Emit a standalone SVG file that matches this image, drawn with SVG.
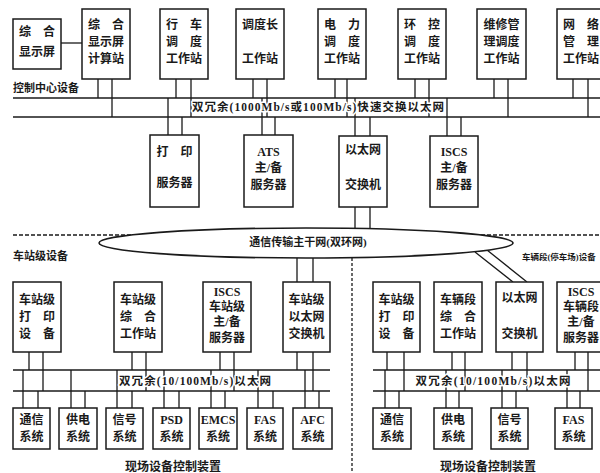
<svg xmlns="http://www.w3.org/2000/svg" width="600" height="473" viewBox="0 0 600 473">
<style>
.box{fill:#fff;stroke:#1a1a1a;stroke-width:1.5}
.ln{stroke:#1a1a1a;stroke-width:1.3;fill:none}
.t{font-family:"Liberation Serif","Noto Sans CJK SC",serif;font-size:12px;font-weight:bold;fill:#1a1a1a;text-anchor:middle}
.lab{font-family:"Liberation Serif","Noto Sans CJK SC",serif;font-size:11px;font-weight:bold;fill:#1a1a1a}
.bl{font-family:"Liberation Serif","Noto Sans CJK SC",serif;font-size:11.5px;font-weight:bold;fill:#1a1a1a;text-anchor:middle;paint-order:stroke;stroke:#fff;stroke-width:3px;stroke-linejoin:round}
</style>
<rect width="600" height="473" fill="#fff"/>
<g id="connectors" class="ln">
<!-- buses -->
<line x1="13" y1="98" x2="600" y2="98"/>
<line x1="13" y1="117" x2="600" y2="117"/>
<line x1="13" y1="370" x2="330" y2="370"/>
<line x1="13" y1="391" x2="330" y2="391"/>
<line x1="373" y1="370" x2="600" y2="370"/>
<line x1="373" y1="391" x2="600" y2="391"/>
<!-- dashed separators -->
<line x1="13" y1="235" x2="600" y2="235" stroke-dasharray="4 2"/>
<line x1="352" y1="258" x2="352" y2="473" stroke-dasharray="3 2"/>
<!-- display link -->
<line x1="61" y1="43" x2="82" y2="43"/>
<!-- top stations -->
<path d="M98 79V98M112 79V117M176 79V98M191 79V117M253 79V98M267 79V117M335 79V98M347 79V117M415 79V98M429 79V117M494 79V98M508 79V117M573 79V98M588 79V117"/>
<!-- servers -->
<path d="M168 98V135M182 117V135M262 98V135M275 117V135M355 98V136M370 117V136M447 98V136M461 117V136"/>
<!-- switch to ring -->
<path d="M355 207V229M370 207V229"/>
<path d="M297 258V282M313 258V282"/>
<path d="M475 252L513 282M487 250L527 282"/>
<!-- station devices -->
<path d="M29 352V370M43 352V391M132 352V370M146 352V391M220 352V370M234 352V391M297 352V370M313 352V391"/>
<!-- station subsystems -->
<path d="M23 370V408M38 391V408M71 370V408M85 391V408M117 370V408M132 391V408M164 370V408M179 391V408M211 370V408M225 391V408M258 370V408M273 391V408M305 370V408M319 391V408"/>
<!-- depot devices -->
<path d="M387 352V370M404 352V391M452 352V370M465 352V391M512 352V370M527 352V391M575 352V370M588 352V391"/>
<!-- depot subsystems -->
<path d="M385 370V408M399 391V408M446 370V408M459 391V408M502 370V408M516 391V408M567 370V408M580 391V408"/>
</g>

<g id="labels">
<text class="lab" x="13" y="92">控制中心设备</text>
<text class="lab" x="13" y="260">车站级设备</text>
<text class="lab" x="522" y="260" style="font-size:8.5px">车辆段(停车场)设备</text>
<text class="bl" x="318" y="111" textLength="252" lengthAdjust="spacing">双冗余(1000Mb/s或100Mb/s)快速交换以太网</text>
<text class="bl" x="195" y="385" textLength="152" lengthAdjust="spacing">双冗余(10/100Mb/s)以太网</text>
<text class="bl" x="493" y="385" textLength="155" lengthAdjust="spacing">双冗余(10/100Mb/s)以太网</text>
<text class="t" x="173" y="471">现场设备控制装置</text>
<text class="t" x="488" y="471">现场设备控制装置</text>
</g>

<g id="ring">
<ellipse cx="306" cy="243" rx="207" ry="15" fill="#fff" stroke="#1a1a1a" stroke-width="1.6"/>
<text class="lab" x="308" y="246" text-anchor="middle">通信传输主干网(双环网)</text>
</g>

<!-- control centre -->
<g id="n-display"><rect class="box" x="13" y="19" width="48" height="50"/><text class="t" x="37" y="36">综　合</text><text class="t" x="37" y="56">显示屏</text></g>
<g id="n-displaycalc"><rect class="box" x="82" y="9" width="48" height="70"/><text class="t" x="106" y="29">综　合</text><text class="t" x="106" y="46">显示屏</text><text class="t" x="106" y="63">计算站</text></g>
<g id="n-traffic"><rect class="box" x="160" y="9" width="48" height="70"/><text class="t" x="184" y="29">行　车</text><text class="t" x="184" y="46">调　度</text><text class="t" x="184" y="63">工作站</text></g>
<g id="n-chief"><rect class="box" x="236" y="9" width="48" height="70"/><text class="t" x="260" y="29">调度长</text><text class="t" x="260" y="63">工作站</text></g>
<g id="n-power"><rect class="box" x="318" y="9" width="48" height="70"/><text class="t" x="342" y="29">电　力</text><text class="t" x="342" y="46">调　度</text><text class="t" x="342" y="63">工作站</text></g>
<g id="n-env"><rect class="box" x="398" y="9" width="48" height="70"/><text class="t" x="422" y="29">环　控</text><text class="t" x="422" y="46">调　度</text><text class="t" x="422" y="63">工作站</text></g>
<g id="n-maint"><rect class="box" x="477" y="9" width="49" height="70"/><text class="t" x="501.5" y="29">维修管</text><text class="t" x="501.5" y="46">理调度</text><text class="t" x="501.5" y="63">工作站</text></g>
<g id="n-netmgmt"><rect class="box" x="557" y="9" width="48" height="70"/><text class="t" x="581" y="29">网　络</text><text class="t" x="581" y="46">管　理</text><text class="t" x="581" y="63">工作站</text></g>

<g id="n-printsrv"><rect class="box" x="150" y="135" width="49" height="72"/><text class="t" x="174.5" y="156">打　印</text><text class="t" x="174.5" y="187">服务器</text></g>
<g id="n-ats"><rect class="box" x="244" y="135" width="49" height="72"/><text class="t" x="268.5" y="156">ATS</text><text class="t" x="268.5" y="172">主/备</text><text class="t" x="268.5" y="189">服务器</text></g>
<g id="n-switch"><rect class="box" x="339" y="136" width="48" height="71"/><text class="t" x="363" y="154">以太网</text><text class="t" x="363" y="189">交换机</text></g>
<g id="n-iscs"><rect class="box" x="430" y="136" width="48" height="71"/><text class="t" x="454" y="156">ISCS</text><text class="t" x="454" y="172">主/备</text><text class="t" x="454" y="189">服务器</text></g>

<!-- station -->
<g id="n-st-print"><rect class="box" x="13" y="282" width="48" height="70"/><text class="t" x="37" y="304">车站级</text><text class="t" x="37" y="321">打　印</text><text class="t" x="37" y="338">设　备</text></g>
<g id="n-st-ws"><rect class="box" x="114" y="282" width="48" height="70"/><text class="t" x="138" y="304">车站级</text><text class="t" x="138" y="321">综　合</text><text class="t" x="138" y="338">工作站</text></g>
<g id="n-st-iscs"><rect class="box" x="203" y="282" width="48" height="70"/><text class="t" x="227" y="296">ISCS</text><text class="t" x="227" y="311">车站级</text><text class="t" x="227" y="326">主/备</text><text class="t" x="227" y="342">服务器</text></g>
<g id="n-st-switch"><rect class="box" x="283" y="282" width="47" height="70"/><text class="t" x="306.5" y="304">车站级</text><text class="t" x="306.5" y="321">以太网</text><text class="t" x="306.5" y="338">交换机</text></g>

<g id="n-st-comm"><rect class="box" x="13" y="408" width="37" height="41"/><text class="t" x="31.5" y="424">通信</text><text class="t" x="31.5" y="441">系统</text></g>
<g id="n-st-power"><rect class="box" x="59" y="408" width="38" height="41"/><text class="t" x="78" y="424">供电</text><text class="t" x="78" y="441">系统</text></g>
<g id="n-st-signal"><rect class="box" x="106" y="408" width="37" height="41"/><text class="t" x="124.5" y="424">信号</text><text class="t" x="124.5" y="441">系统</text></g>
<g id="n-st-psd"><rect class="box" x="153" y="408" width="37" height="41"/><text class="t" x="171.5" y="424">PSD</text><text class="t" x="171.5" y="441">系统</text></g>
<g id="n-st-emcs"><rect class="box" x="199" y="408" width="38" height="41"/><text class="t" x="218" y="424">EMCS</text><text class="t" x="218" y="441">系统</text></g>
<g id="n-st-fas"><rect class="box" x="247" y="408" width="36" height="41"/><text class="t" x="265" y="424">FAS</text><text class="t" x="265" y="441">系统</text></g>
<g id="n-st-afc"><rect class="box" x="293" y="408" width="39" height="41"/><text class="t" x="312.5" y="424">AFC</text><text class="t" x="312.5" y="441">系统</text></g>

<!-- depot -->
<g id="n-dp-print"><rect class="box" x="373" y="282" width="47" height="70"/><text class="t" x="396.5" y="304">车站级</text><text class="t" x="396.5" y="321">打　印</text><text class="t" x="396.5" y="338">设　备</text></g>
<g id="n-dp-ws"><rect class="box" x="434" y="282" width="48" height="70"/><text class="t" x="458" y="304">车辆段</text><text class="t" x="458" y="321">综　合</text><text class="t" x="458" y="338">工作站</text></g>
<g id="n-dp-switch"><rect class="box" x="496" y="282" width="47" height="70"/><text class="t" x="519.5" y="302">以太网</text><text class="t" x="519.5" y="338">交换机</text></g>
<g id="n-dp-iscs"><rect class="box" x="557" y="282" width="48" height="70"/><text class="t" x="581" y="296">ISCS</text><text class="t" x="581" y="311">车辆段</text><text class="t" x="581" y="326">主/备</text><text class="t" x="581" y="342">服务器</text></g>

<g id="n-dp-comm"><rect class="box" x="373" y="408" width="38" height="41"/><text class="t" x="392" y="424">通信</text><text class="t" x="392" y="441">系统</text></g>
<g id="n-dp-power"><rect class="box" x="434" y="408" width="38" height="41"/><text class="t" x="453" y="424">供电</text><text class="t" x="453" y="441">系统</text></g>
<g id="n-dp-signal"><rect class="box" x="491" y="408" width="37" height="41"/><text class="t" x="509.5" y="424">信号</text><text class="t" x="509.5" y="441">系统</text></g>
<g id="n-dp-fas"><rect class="box" x="555" y="408" width="37" height="41"/><text class="t" x="573.5" y="424">FAS</text><text class="t" x="573.5" y="441">系统</text></g>
</svg>
